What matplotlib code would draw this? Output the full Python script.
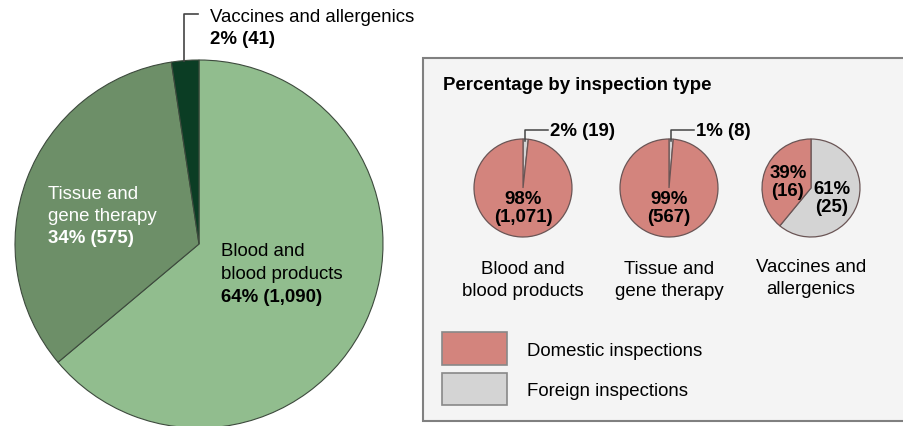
import matplotlib.pyplot as plt
from matplotlib.patches import Rectangle

plt.rcParams['font.family'] = ['Liberation Sans', 'DejaVu Sans']

# main pie: inspections by product type
main_labels = ["Blood and\nblood products", "Tissue and\ngene therapy", "Vaccines and allergenics"]
main_counts = [1090, 575, 41]
main_pcts = ["64%", "34%", "2%"]
main_colors = ["#91bd8e", "#6d8f68", "#0b3d24"]

# small pies: domestic vs foreign per product type
small_titles = ["Blood and\nblood products", "Tissue and\ngene therapy", "Vaccines and\nallergenics"]
domestic = [1071, 567, 16]
foreign = [19, 8, 25]
domestic_pct = ["98%", "99%", "39%"]
foreign_pct = ["2%", "1%", "61%"]
dom_color = "#d3847d"
for_color = "#d4d4d4"

W, H = 904, 426
FS = 13.4
CAP = 6.5  # half cap height in px, to put baselines from visual centres

fig = plt.figure(figsize=(W / 100, H / 100), dpi=100)
ax = fig.add_axes([0, 0, 1, 1])


def Y(y):
    return H - y


def lines(x, y0, step, txts, ha="left", **kw):
    # one text per line so the rows sit where the reference has them
    for k, t in enumerate(txts):
        ax.text(x, Y(y0 + k * step + CAP), t, fontsize=FS, ha=ha,
                va="baseline", **kw)


# big pie
ax.pie(main_counts, colors=main_colors, startangle=90, counterclock=False,
       center=(199, Y(244)), radius=184,
       wedgeprops=dict(edgecolor="#3d4a3d", linewidth=0.8))

lines(48, 193, 22, main_labels[1].split("\n"), color="white")
lines(48, 237, 22, [f"{main_pcts[1]} ({main_counts[1]:,})"], color="white",
      fontweight="bold")
lines(221, 250, 22.5, main_labels[0].split("\n"), color="black")
lines(221, 295, 22, [f"{main_pcts[0]} ({main_counts[0]:,})"], color="black",
      fontweight="bold")
lines(210, 15, 22, [main_labels[2]])
lines(210, 38, 22, [f"{main_pcts[2]} ({main_counts[2]:,})"], fontweight="bold")
ax.plot([184, 184, 198], [Y(61), Y(14), Y(14)], color="#444444", lw=1.2)

# right panel
ax.add_patch(Rectangle((423, Y(421)), 490, 363, facecolor="#f4f4f4",
                       edgecolor="#808080", linewidth=1.5, zorder=0))
lines(443, 83, 22, ["Percentage by inspection type"], fontweight="bold")

centers = [523, 669, 811]
for i, cx in enumerate(centers):
    ax.pie([foreign[i], domestic[i]], colors=[for_color, dom_color],
           startangle=90, counterclock=False, center=(cx, Y(188)), radius=49,
           wedgeprops=dict(edgecolor="#6a5555", linewidth=0.9))
    ty = 268 if i < 2 else 266
    lines(cx, ty, 22, small_titles[i].split("\n"), ha="center")

# labels on small pies
for i in range(2):
    cx = centers[i]
    lines(cx, 198, 17.5, [domestic_pct[i], f"({domestic[i]:,})"], ha="center",
          fontweight="bold")
    ax.plot([cx + 2, cx + 2, cx + 25], [Y(141), Y(130), Y(130)],
            color="#444444", lw=1.1)
    lines(cx + 27, 130, 22, [f"{foreign_pct[i]} ({foreign[i]:,})"],
          fontweight="bold")

lines(788, 172, 18, [domestic_pct[2], f"({domestic[2]:,})"], ha="center",
      fontweight="bold")
lines(832, 188, 18, [foreign_pct[2], f"({foreign[2]:,})"], ha="center",
      fontweight="bold")

# legend
ax.add_patch(Rectangle((442, Y(365)), 65, 33, facecolor=dom_color,
                       edgecolor="#888888", linewidth=1.2))
ax.add_patch(Rectangle((442, Y(405)), 65, 32, facecolor=for_color,
                       edgecolor="#888888", linewidth=1.2))
lines(527, 349, 22, ["Domestic inspections"])
lines(527, 389, 22, ["Foreign inspections"])

ax.set_xlim(0, W)
ax.set_ylim(0, H)
ax.set_aspect("equal")
ax.axis("off")

fig.savefig("out.png", dpi=100, facecolor="white")
